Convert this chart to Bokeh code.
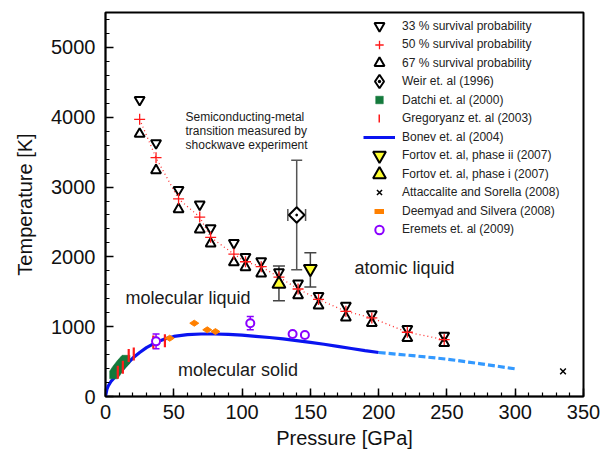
import numpy as np
from bokeh.plotting import figure
from bokeh.models import (ColumnDataSource, Whisker, TeeHead, Legend, LegendItem,
                          Label, Range1d, SingleIntervalTicker)
from bokeh.embed import file_html
from bokeh.resources import INLINE

FONT = "Liberation Sans"

# ---------------- data ----------------
surv_p = [25, 37, 53.5, 69, 77, 94, 102.5, 114, 127, 141, 156, 176, 195, 221, 248]
surv_t33 = [4250, 3630, 2960, 2750, 2410, 2200, 2000, 1940, 1780, 1620, 1440, 1300, 1180, 970, 870]
surv_t50 = [3970, 3420, 2830, 2570, 2280, 2040, 1930, 1860, 1710, 1540, 1390, 1220, 1125, 920, 815]
surv_t67 = [3760, 3240, 2680, 2390, 2190, 1920, 1850, 1760, 1620, 1450, 1300, 1130, 1050, 835, 765]

weir_p = [140]
weir_t = [2600]
weir_p_err = [6.5]
weir_t_err = [785]

datchi_p = [6, 6.5, 7, 7.5, 8, 8.5, 9, 9.5, 10, 10.5, 11, 11.5, 12, 12.5, 13, 13.5, 14, 14.5, 15]
datchi_t = [310, 325, 340, 354, 368, 382, 395, 408, 420, 433, 445, 457, 468, 479, 490, 501, 512, 522, 533]

greg_p = [9, 12.7, 17, 20.7, 35, 43.5]
greg_t = [347, 419, 586, 610, 780, 800]

bonev_p = [0, 1, 2, 4, 6, 8, 10, 12, 15, 20, 25, 30, 35, 40, 45, 50, 60, 70, 80, 90,
           100, 110, 120, 130, 140, 150, 160, 170, 180, 190, 200]
bonev_t = [0, 100, 150, 215, 260, 295, 340, 385, 450, 550, 630, 700, 755, 800, 835, 860,
           885, 895, 895, 890, 878, 862, 845, 825, 800, 775, 748, 718, 688, 658, 630]
bonev_ext_p = [200, 225, 250, 275, 300]
bonev_ext_t = [630, 585, 535, 468, 396]

fortov2_p = [150]
fortov2_t = [1830]
fortov2_lo = [1570]
fortov2_hi = [2060]

fortov1_p = [127]
fortov1_t = [1610]
fortov1_lo = [1370]
fortov1_hi = [1870]

att_p = [335]
att_t = [360]

deem_p = [47, 65, 74.5, 80.5]
deem_t = [835, 1050, 955, 930]

erem_p = [37, 106, 137, 146]
erem_t = [790, 1050, 895, 880]
erem_err = [105, 95, 30, 30]

legend_labels = ["33 % survival probability", "50 % survival probability",
                 "67 % survival probability", "Weir et. al (1996)", "Datchi et. al (2000)",
                 "Gregoryanz et. al (2003)", "Bonev et. al (2004)",
                 "Fortov et. al, phase ii (2007)", "Fortov et. al, phase i (2007)",
                 "Attaccalite and Sorella (2008)", "Deemyad and Silvera (2008)",
                 "Eremets et. al (2009)"]

# ---------------- figure ----------------
FRAME_L, FRAME_B = 105, 396
p = figure(width=604, height=454, output_backend="svg", toolbar_location=None,
           x_range=Range1d(0, 350), y_range=Range1d(0, 5500),
           min_border_left=FRAME_L, min_border_right=21, min_border_top=12,
           min_border_bottom=454 - FRAME_B,
           background_fill_color="white", border_fill_color="white")
p.xgrid.visible = False
p.ygrid.visible = False
p.outline_line_color = "black"
p.outline_line_width = 2

p.xaxis.ticker = SingleIntervalTicker(interval=50, num_minor_ticks=5)
p.yaxis.ticker = SingleIntervalTicker(interval=1000, num_minor_ticks=5)
for ax in (p.xaxis[0], p.yaxis[0]):
    ax.axis_line_width = 1.5
    ax.axis_line_color = "black"
    ax.major_tick_in = 8
    ax.major_tick_out = 0
    ax.minor_tick_in = 4
    ax.minor_tick_out = 0
    ax.major_tick_line_width = 1.5
    ax.minor_tick_line_width = 1.2
    ax.major_tick_line_color = "black"
    ax.minor_tick_line_color = "black"
    ax.major_label_text_font = FONT
    ax.axis_label_text_font = FONT
    ax.axis_label_text_font_style = "normal"
    ax.major_label_text_color = "#111111"
    ax.axis_label_text_color = "#111111"
    ax.major_label_text_font_size = "20px"
    ax.axis_label_text_font_size = "20px"

p.xaxis.axis_label = "Pressure [GPa]"
p.xaxis.major_label_standoff = 8
p.xaxis.axis_label_standoff = 5

p.yaxis.axis_label = "Temperature [K]"
p.yaxis.major_label_standoff = 10
p.yaxis.axis_label_standoff = 12

RED = "#ff1a1a"
ORANGE = "#ff8000"
PURPLE = "#8a00ff"
GREEN = "#147a3c"
YELLOW = "#ffff30"

# ---------------- glyphs ----------------
r_bonev = p.line(bonev_p, bonev_t, line_color="#0a14f0", line_width=3.2)
p.line(bonev_ext_p, bonev_ext_t, line_color="#3399ff", line_width=3.2, line_dash="7 3")

p.line(surv_p, surv_t50, line_color="#ff3030", line_width=1.3, line_dash="1 3")

r_datchi = p.scatter(datchi_p, datchi_t, marker="square", size=8,
                     fill_color=GREEN, line_color=GREEN, line_width=0.5)

r_greg = p.scatter(greg_p, greg_t, marker="dash", angle=np.pi / 2, size=13,
                   line_color=RED, line_width=2.2)
r_greg_leg = p.line(greg_p, greg_t, line_color=RED, line_width=8, visible=False)

r_deem = p.scatter(deem_p, deem_t, marker="diamond", angle=np.pi / 2, size=9,
                   fill_color=ORANGE, line_color=ORANGE, line_width=1)
r_deem_leg = p.line(deem_p, deem_t, line_color=ORANGE, line_width=5, visible=False)

erem_src = ColumnDataSource(dict(
    base=erem_p,
    lower=[t - e for t, e in zip(erem_t, erem_err)],
    upper=[t + e for t, e in zip(erem_t, erem_err)]))
p.add_layout(Whisker(source=erem_src, base="base", lower="lower", upper="upper",
                     dimension="height", line_color=PURPLE, line_width=1.5,
                     upper_head=TeeHead(size=7, line_color=PURPLE, line_width=1.5),
                     lower_head=TeeHead(size=7, line_color=PURPLE, line_width=1.5),
                     level="underlay"))
r_erem = p.scatter(erem_p, erem_t, marker="circle", size=8, fill_color="white",
                   line_color=PURPLE, line_width=2)

r_att = p.scatter(att_p, att_t, marker="x", size=8, line_color="black", line_width=1.5)

r33 = p.scatter(surv_p, surv_t33, marker="inverted_triangle", size=10,
                fill_color=None, line_color="black", line_width=2)
r67 = p.scatter(surv_p, surv_t67, marker="triangle", size=10,
                fill_color=None, line_color="black", line_width=2)
r50 = p.scatter(surv_p, surv_t50, marker="cross", size=11,
                line_color=RED, line_width=1.3)

# Weir error bars
weir_src_v = ColumnDataSource(dict(
    base=weir_p,
    lower=[t - e for t, e in zip(weir_t, weir_t_err)],
    upper=[t + e for t, e in zip(weir_t, weir_t_err)]))
p.add_layout(Whisker(source=weir_src_v, base="base", lower="lower", upper="upper",
                     dimension="height", line_color="#555555", line_width=1.5,
                     upper_head=TeeHead(size=11, line_color="#555555", line_width=1.5),
                     lower_head=TeeHead(size=11, line_color="#555555", line_width=1.5),
                     level="underlay"))
weir_src_h = ColumnDataSource(dict(
    base=weir_t,
    lower=[q - e for q, e in zip(weir_p, weir_p_err)],
    upper=[q + e for q, e in zip(weir_p, weir_p_err)]))
p.add_layout(Whisker(source=weir_src_h, base="base", lower="lower", upper="upper",
                     dimension="width", line_color="#555555", line_width=1.5,
                     upper_head=TeeHead(size=12, line_color="#555555", line_width=1.5),
                     lower_head=TeeHead(size=12, line_color="#555555", line_width=1.5),
                     level="underlay"))
r_weir = p.scatter(weir_p, weir_t, marker="square_dot", angle=np.pi / 4, size=11,
                   fill_color="white", line_color="black", line_width=2)
r_weir_leg = p.scatter(weir_p, weir_t, marker="diamond_dot", size=14, fill_color="white",
                       line_color="black", line_width=2, visible=False)

# Fortov error bars
for fp, flo, fhi in ((fortov2_p, fortov2_lo, fortov2_hi), (fortov1_p, fortov1_lo, fortov1_hi)):
    src = ColumnDataSource(dict(base=fp, lower=flo, upper=fhi))
    p.add_layout(Whisker(source=src, base="base", lower="lower", upper="upper",
                         dimension="height", line_color="#444444", line_width=1.5,
                         upper_head=TeeHead(size=12, line_color="#444444", line_width=1.5),
                         lower_head=TeeHead(size=12, line_color="#444444", line_width=1.5),
                         level="underlay"))
r_f2 = p.scatter(fortov2_p, fortov2_t, marker="inverted_triangle", size=13,
                 fill_color=YELLOW, line_color="black", line_width=2)
r_f1 = p.scatter(fortov1_p, fortov1_t, marker="triangle", size=13,
                 fill_color=YELLOW, line_color="black", line_width=2)

# ---------------- text annotations ----------------
for txt, tx, ty, fs in (("Semiconducting-metal", 58.6, 4007, "12px"),
                        ("transition measured by", 58.6, 3807, "12px"),
                        ("shockwave experiment", 58.6, 3602, "12px"),
                        ("molecular liquid", 14.6, 1411, "18px"),
                        ("molecular solid", 53.1, 380, "18px"),
                        ("atomic liquid", 182.3, 1840, "18px")):
    p.add_layout(Label(x=tx, y=ty, text=txt, text_font=FONT, text_font_size=fs,
                       text_baseline="middle", text_align="left", text_color="#1a1a1a"))

# ---------------- legend (one row each, so glyph sizes can differ) ----------------
LEG_GLYPH_CX = 379      # screen x of legend glyph centres
LEG_TEXT_X = 402        # screen x where legend labels start
LEG_ROW0 = 25.7         # screen y of first row centre
LEG_STEP = 18.5         # row pitch
# (renderer, glyph_width, glyph_height)
leg_specs = [(r33, 32, 25), (r50, 32, 21), (r67, 32, 25), (r_weir_leg, 34, 34),
             (r_datchi, 32, 19), (r_greg_leg, 2, 18), (r_bonev, 32, 18),
             (r_f2, 32, 32), (r_f1, 32, 32), (r_att, 32, 18), (r_deem_leg, 10, 18),
             (r_erem, 32, 21)]
for i, (lab, (rend, gw, gh)) in enumerate(zip(legend_labels, leg_specs)):
    cy = LEG_ROW0 + LEG_STEP * i
    glyph_left = LEG_GLYPH_CX - gw / 2
    standoff = int(round(LEG_TEXT_X - glyph_left - gw))
    vx = glyph_left - FRAME_L
    vy = FRAME_B - cy - gh / 2
    leg = Legend(items=[LegendItem(label=lab, renderers=[rend])], location=(vx, vy),
                 glyph_width=gw, glyph_height=gh, spacing=0, padding=0, margin=0,
                 label_standoff=standoff, label_height=12,
                 label_text_font=FONT, label_text_font_size="12px",
                 label_text_color="#222222", label_text_baseline="middle",
                 background_fill_alpha=0, border_line_alpha=0)
    p.add_layout(leg)

open("out.html", "w").write(file_html(p, INLINE))
